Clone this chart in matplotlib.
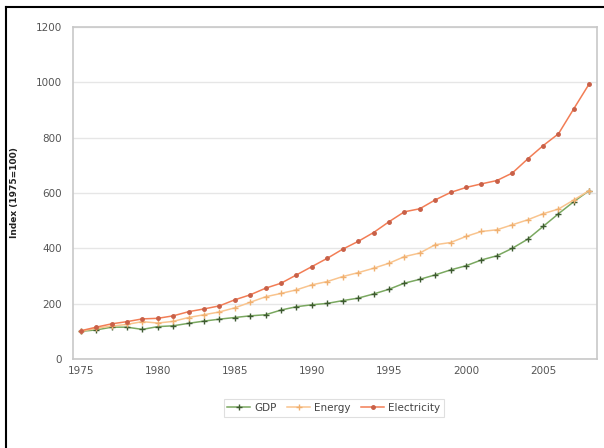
import matplotlib
matplotlib.use("Agg")
import matplotlib.pyplot as plt
from matplotlib.lines import Line2D

years = list(range(1975, 2009))
gdp = [100, 105, 115, 115, 107, 117, 120, 129, 137, 144, 150, 156, 160, 177, 189,
       196, 201, 211, 220, 235, 252, 274, 288, 304, 322, 337, 358, 373, 400, 433,
       479, 525, 569, 609]
energy = [100, 111, 119, 125, 135, 130, 136, 150, 160, 170, 185, 205, 225, 237, 250,
          268, 280, 298, 312, 328, 346, 370, 383, 413, 421, 443, 461, 467, 485, 503,
          525, 542, 575, 609]
electricity = [102, 115, 127, 135, 145, 147, 156, 171, 181, 192, 214, 232, 256, 274, 304,
               334, 364, 397, 425, 457, 496, 532, 543, 575, 602, 620, 633, 645, 672, 723,
               771, 814, 905, 995]
series_names = ["GDP", "Energy", "Electricity"]
xtick_years = [1975, 1980, 1985, 1990, 1995, 2000, 2005]
yticks = [0, 200, 400, 600, 800, 1000, 1200]

fig = plt.figure(figsize=(6.04, 4.48), dpi=100)
fig.patch.set_facecolor("white")
# outer black border (left + top visible)
fig.add_artist(Line2D([6/604, 6/604], [0, 1 - 7/448], color="black", lw=1.5, transform=fig.transFigure))
fig.add_artist(Line2D([6/604, 1], [1 - 7/448, 1 - 7/448], color="black", lw=1.5, transform=fig.transFigure))

ax = fig.add_axes([73/604, 1 - 359/448, (597 - 73)/604, (359 - 27)/448])
ax.set_xlim(1974.5, 2008.5)
ax.set_ylim(0, 1200)
ax.set_yticks(yticks)
ax.set_xticks(xtick_years)
ax.set_xticklabels([str(y) for y in xtick_years])
ax.grid(axis="y", color="#e6e6e6", lw=1.0)
ax.set_axisbelow(True)
for s in ax.spines.values():
    s.set_color("#c8c8c8")
    s.set_linewidth(1.2)
ax.tick_params(axis="both", length=0, labelsize=7.5, labelcolor="#555555", pad=8)
ax.tick_params(axis="x", pad=5)
ax.set_ylabel("Index (1975=100)", fontsize=6.5, fontweight="bold", color="#222222", labelpad=12)

l1, = ax.plot(years, gdp, color="#7aa860", lw=1.1, marker="+", markersize=4,
              markeredgecolor="#3d5a30", markeredgewidth=1.0, label=series_names[0])
l2, = ax.plot(years, energy, color="#f9c48e", lw=1.1, marker="+", markersize=4,
              markeredgecolor="#f0b070", markeredgewidth=1.0, label=series_names[1])
l3, = ax.plot(years, electricity, color="#f27d55", lw=1.1, marker="o", markersize=2.5,
              markerfacecolor="#c86048", markeredgecolor="#c86048", label=series_names[2])

leg = fig.legend(handles=[l1, l2, l3], loc="center", bbox_to_anchor=(334/604, 1 - 408/448),
                 ncol=3, fontsize=7.5, frameon=True, fancybox=False, handlelength=2.2,
                 columnspacing=1.0, handletextpad=0.4, borderpad=0.35)
leg.get_frame().set_edgecolor("#d8d8d8")
leg.get_frame().set_linewidth(0.8)
for t in leg.get_texts():
    t.set_color("#444444")

fig.savefig("out.png", dpi=100)
